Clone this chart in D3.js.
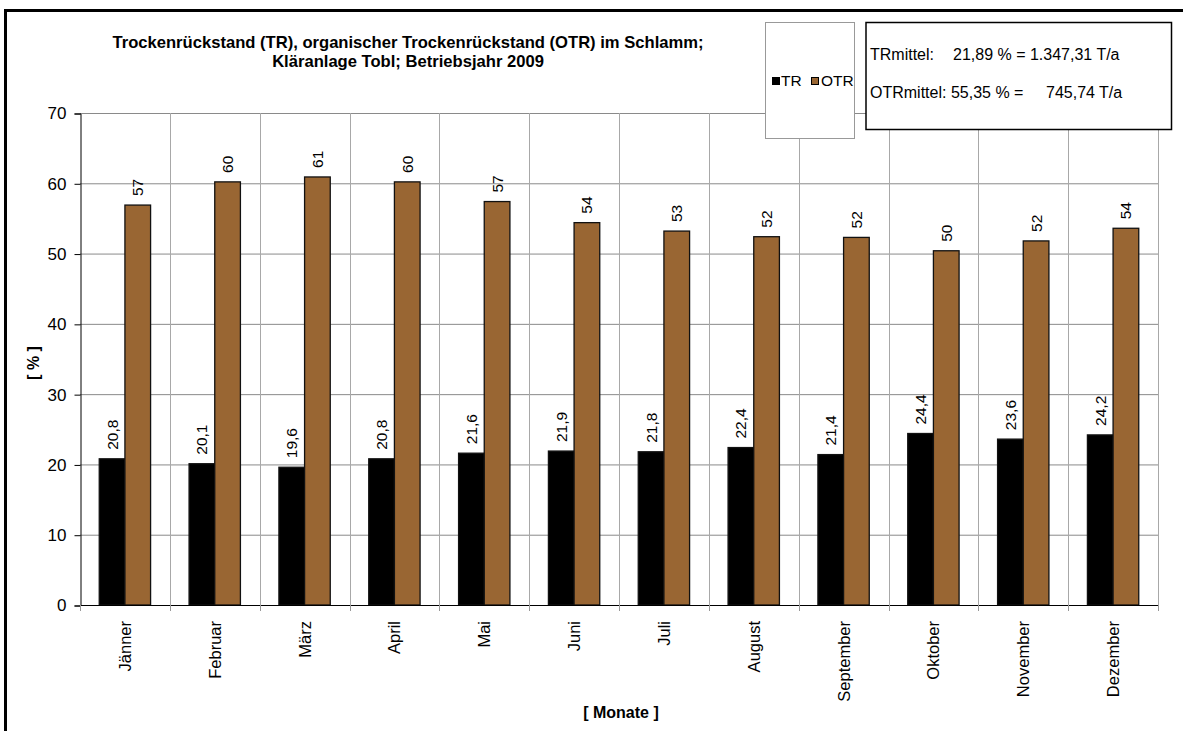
<!DOCTYPE html>
<html>
<head>
<meta charset="utf-8">
<script src="https://cdn.jsdelivr.net/npm/d3@7"></script>
<style>
  html, body { margin: 0; padding: 0; background: #fff; }
  svg { display: block; font-family: "Liberation Sans", Arial, sans-serif; }
</style>
</head>
<body>
<svg id="chart" width="1183" height="731"></svg>
<script>
// Monthly dry residue (TR) and organic dry residue (OTR) of the sludge, 2009
const months = ["Jänner", "Februar", "März", "April", "Mai", "Juni",
                "Juli", "August", "September", "Oktober", "November", "Dezember"];
const trValues  = [20.8, 20.1, 19.6, 20.8, 21.6, 21.9, 21.8, 22.4, 21.4, 24.4, 23.6, 24.2];
const otrValues = [56.9, 60.2, 60.9, 60.2, 57.4, 54.4, 53.2, 52.4, 52.3, 50.4, 51.8, 53.6];
const seriesNames = ["TR", "OTR"];
const seriesColors = ["#000000", "#996633"];
const yTicks = [0, 10, 20, 30, 40, 50, 60, 70];
const titleLines = ["Trockenrückstand (TR), organischer Trockenrückstand (OTR) im Schlamm;",
                    "Kläranlage Tobl; Betriebsjahr 2009"];
const summaryLines = [
  ["TRmittel:", "21,89 % = 1.347,31 T/a"],
  ["OTRmittel: 55,35 % =", "745,74 T/a"]
];

const svg = d3.select("#chart");
const plot = { left: 80, right: 1158, top: 113, bottom: 605 };

const x = d3.scaleBand().domain(months).range([plot.left, plot.right]).paddingInner(0).paddingOuter(0);
const inner = d3.scaleBand().domain(seriesNames).range([0, x.bandwidth()]).paddingInner(0).paddingOuter(0.75);
const y = d3.scaleLinear().domain([0, 70]).range([plot.bottom, plot.top]);

// outer frame
svg.append("rect").attr("x", 5.5).attr("y", 10.5).attr("width", 1190).attr("height", 740)
  .attr("fill", "none").attr("stroke", "#000").attr("stroke-width", 3);

// horizontal gridlines
svg.append("g").selectAll("line").data(yTicks.filter(d => d > 0)).join("line")
  .attr("x1", plot.left).attr("x2", plot.right)
  .attr("y1", d => y(d) + 0.5).attr("y2", d => y(d) + 0.5)
  .attr("stroke", "#8a8a8a").attr("stroke-width", 1);

// vertical gridlines at category boundaries
const boundaries = months.map(m => x(m)).concat([plot.right]).slice(1);
svg.append("g").selectAll("line").data(boundaries).join("line")
  .attr("x1", d => Math.round(d) + 0.5).attr("x2", d => Math.round(d) + 0.5)
  .attr("y1", plot.top).attr("y2", plot.bottom)
  .attr("stroke", "#a8a8a8").attr("stroke-width", 1);

// bars
const rows = months.map((m, i) => ({ month: m, values: [trValues[i], otrValues[i]] }));
const groups = svg.append("g").selectAll("g").data(rows).join("g")
  .attr("transform", d => `translate(${x(d.month)},0)`);

groups.selectAll("rect").data(d => d.values.map((v, k) => ({ key: seriesNames[k], v, k }))).join("rect")
  .attr("x", d => inner(d.key))
  .attr("width", inner.bandwidth())
  .attr("y", d => y(d.v))
  .attr("height", d => y(0) - y(d.v))
  .attr("fill", d => seriesColors[d.k])
  .attr("stroke", "#111").attr("stroke-width", 1.3);

// value labels above bars
const fmtTR = v => d3.format(".1f")(v).replace(".", ",");
const fmtOTR = v => d3.format(".0f")(v);
groups.selectAll("text").data(d => d.values.map((v, k) => ({ key: seriesNames[k], v, k }))).join("text")
  .attr("transform", d => {
    const cx = inner(d.key) + inner.bandwidth() / 2 + 5.5;
    return `translate(${cx},${y(d.v) - 9}) rotate(-90)`;
  })
  .attr("text-anchor", "start")
  .attr("font-size", 15.5)
  .attr("fill", "#000")
  .text(d => d.k === 0 ? fmtTR(d.v) : fmtOTR(d.v));

// y axis
const yAxis = d3.axisLeft(y).tickValues(yTicks).tickSize(6).tickPadding(8).tickFormat(d3.format("d"));
const yg = svg.append("g").attr("transform", `translate(${plot.left + 0.5},0.5)`).call(yAxis);
yg.select(".domain").attr("stroke", "#000");
yg.selectAll(".tick line").attr("stroke", "#000");
yg.selectAll(".tick text").attr("font-size", 17).attr("font-family", "Liberation Sans, Arial, sans-serif").attr("fill", "#000");

// x axis baseline and boundary ticks
svg.append("line").attr("x1", plot.left).attr("x2", plot.right)
  .attr("y1", plot.bottom + 0.5).attr("y2", plot.bottom + 0.5)
  .attr("stroke", "#000").attr("stroke-width", 1.2);
svg.append("g").selectAll("line").data([plot.left].concat(boundaries)).join("line")
  .attr("x1", d => Math.round(d) + 0.5).attr("x2", d => Math.round(d) + 0.5)
  .attr("y1", plot.bottom).attr("y2", plot.bottom + 6)
  .attr("stroke", "#999");

// month labels
svg.append("g").selectAll("text").data(months).join("text")
  .attr("transform", m => `translate(${x(m) + x.bandwidth() / 2 + 6},${plot.bottom + 16}) rotate(-90)`)
  .attr("text-anchor", "end")
  .attr("font-size", 16.5)
  .text(m => m);

// axis titles
svg.append("text")
  .attr("transform", `translate(39,363) rotate(-90)`)
  .attr("text-anchor", "middle").attr("font-weight", "bold").attr("font-size", 16)
  .text("[ % ]");
svg.append("text")
  .attr("x", 621).attr("y", 718)
  .attr("text-anchor", "middle").attr("font-weight", "bold").attr("font-size", 16)
  .text("[ Monate ]");

// chart title
svg.append("g").selectAll("text").data(titleLines).join("text")
  .attr("x", 408).attr("y", (d, i) => 48 + i * 19)
  .attr("text-anchor", "middle").attr("font-weight", "bold").attr("font-size", 16.6)
  .text(d => d);

// legend box
const lg = svg.append("g");
lg.append("rect").attr("x", 765.5).attr("y", 22.5).attr("width", 89).attr("height", 116)
  .attr("fill", "#fff").attr("stroke", "#999");
const legendItems = [{ name: seriesNames[0], sx: 772, tx: 781 }, { name: seriesNames[1], sx: 811, tx: 821 }];
legendItems.forEach((it, k) => {
  lg.append("rect").attr("x", it.sx + 0.5).attr("y", 77.5).attr("width", 7).attr("height", 7)
    .attr("fill", seriesColors[k]).attr("stroke", "#000");
  lg.append("text").attr("x", it.tx).attr("y", 86).attr("font-size", 15.5).text(it.name);
});

// summary box with annual means
const sb = svg.append("g");
sb.append("rect").attr("x", 866).attr("y", 22.5).attr("width", 305.5).attr("height", 107)
  .attr("fill", "#fff").attr("stroke", "#000").attr("stroke-width", 1.5);
const summaryX = [[870, 953], [870, 1046]];
summaryLines.forEach((parts, i) => {
  parts.forEach((p, j) => {
    sb.append("text").attr("x", summaryX[i][j]).attr("y", 60 + i * 37.5)
      .attr("font-size", 16).text(p);
  });
});
</script>
</body>
</html>
